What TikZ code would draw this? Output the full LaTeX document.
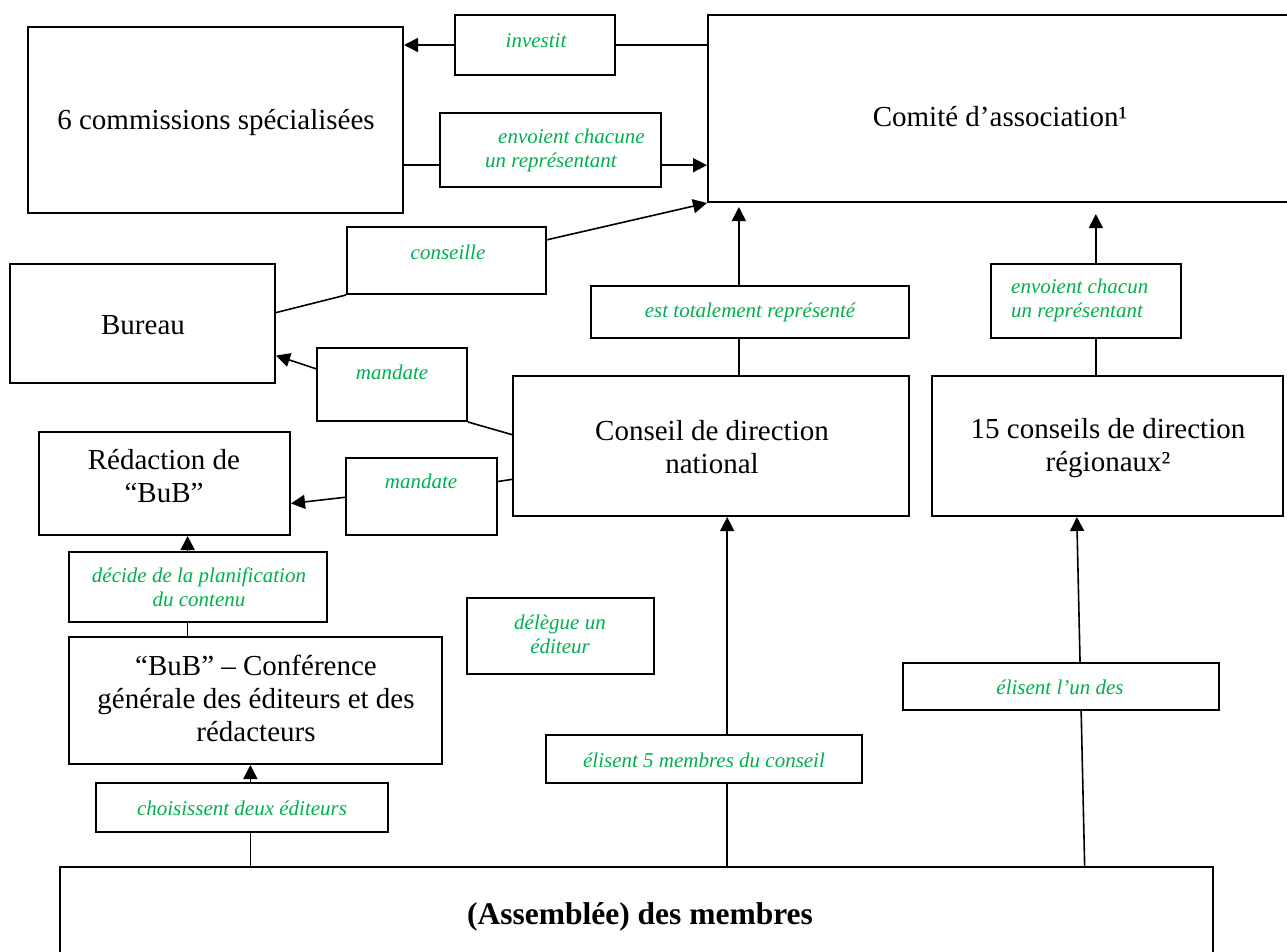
\documentclass[tikz,border=0pt]{standalone}
\usepackage{fontspec}
\setmainfont{Liberation Serif}
\usetikzlibrary{arrows.meta,calc,fit}
\definecolor{lblgreen}{RGB}{0,176,80}
\tikzset{
  box/.style={draw=black, line width=2pt, fill=white, inner sep=0pt},
  conn/.style={line width=1.6pt},
  arr/.style={conn, -{Triangle[length=14pt,width=14pt]}},
  main/.style={font=\fontsize{29}{33}\selectfont, align=center, inner sep=0pt},
  lbl/.style={font=\fontsize{21}{24}\selectfont\itshape, text=lblgreen, align=center, inner sep=0pt},
}
\begin{document}
\begin{tikzpicture}[x=1pt,y=-1pt]
\useasboundingbox (0,0) rectangle (1287,952);
\clip (0,0) rectangle (1287,952);
% boxes
\node[box, fit={(28,27) (403,213)}] (comm) {};
\node[box, fit={(455,15) (615,75)}] (inv) {};
\node[box, fit={(440,113) (661,187)}] (env) {};
\node[box, fit={(708,15) (1295,202)}] (comite) {};
\node[box, fit={(347,227) (546,294)}] (cons) {};
\node[box, fit={(10,264) (275,383)}] (bureau) {};
\node[box, fit={(317,348) (467,421)}] (mandA) {};
\node[box, fit={(513,376) (909,516)}] (cn) {};
\node[box, fit={(591,286) (909,338)}] (est) {};
\node[box, fit={(991,264) (1181,338)}] (envB) {};
\node[box, fit={(932,376) (1283,516)}] (reg) {};
\node[box, fit={(39,432) (290,535)}] (red) {};
\node[box, fit={(346,458) (497,535)}] (mandB) {};
\node[box, fit={(69,552) (327,622)}] (dec) {};
\node[box, fit={(69,637) (442,764)}] (conf) {};
\node[box, fit={(467,598) (654,674)}] (deleg) {};
\node[box, fit={(546,735) (862,783)}] (elA) {};
\node[box, fit={(903,663) (1219,710)}] (elB) {};
\node[box, fit={(96,783) (388,832)}] (choi) {};
\node[box, fit={(60,867) (1213,970)}] (asm) {};
% texts
\node[main] (tcomm) at (216,123) {6 commissions spécialisées};
\node[lbl] (tinv) at (536,41) {investit};
\node[lbl, align=left, anchor=west] (tenv) at (485,150) {\hspace*{13pt}envoient chacune\\un représentant};
\node[main] (tcomite) at (1000,117) {Comité d’association¹};
\node[lbl] (tcons) at (448,252) {conseille};
\node[main] (tbureau) at (143,325) {Bureau};
\node[lbl] (tmandA) at (392,372) {mandate};
\node[main] (tred) at (164,476) {Rédaction de\\“BuB”};
\node[lbl] (tmandB) at (421,481) {mandate};
\node[main] (tcn) at (712,447) {Conseil de direction\\national};
\node[lbl] (test) at (750,312) {est totalement représenté};
\node[lbl, align=left, anchor=west] (tenvB) at (1011,300) {envoient chacun\\un représentant};
\node[main] (treg) at (1108,448) {15 conseils de direction\\régionaux²};
\node[lbl] (tdec) at (199,587) {décide de la planification\\du contenu};
\node[main] (tconf) at (256,698) {“BuB” – Conférence\\générale des éditeurs et des\\rédacteurs};
\node[lbl] (tdeleg) at (560,634) {délègue un\\éditeur};
\node[lbl] (telA) at (704,760) {élisent 5 membres du conseil};
\node[lbl] (telB) at (1060,687) {élisent l’un des};
\node[lbl] (tchoi) at (242,808) {choisissent deux éditeurs};
\node[main, font=\fontsize{31.5}{36}\selectfont\bfseries] (tasm) at (640,917) {(Assemblée) des membres};
% connectors
\draw[conn] (inv.east) -- (inv.east -| comite.west);
\draw[arr] (inv.west) -- (inv.west -| comm.east);
\coordinate (envL) at ($(env.north west)!0.70!(env.south west)$);
\coordinate (envR) at ($(env.north east)!0.70!(env.south east)$);
\draw[conn] (envL) -- (envL -| comm.east);
\draw[arr] (envR) -- (envR -| comite.west);
\draw[conn] ($(bureau.north east)!0.41!(bureau.south east)$) -- (cons.south west);
\draw[arr] ($(cons.north east)!0.2!(cons.south east)$) -- (comite.south west);
\draw[arr] ($(mandA.north west)!0.29!(mandA.south west)$) -- ($(bureau.north east)!0.765!(bureau.south east)$);
\draw[conn] (mandA.south east) -- ($(cn.north west)!0.42!(cn.south west)$);
\draw[conn] ($(cn.north west)!0.735!(cn.south west)$) -- ($(mandB.north east)!0.31!(mandB.south east)$);
\draw[arr] ($(mandB.north west)!0.51!(mandB.south west)$) -- ($(red.north east)!0.69!(red.south east)$);
\coordinate (cnT) at ($(cn.north west)!0.57!(cn.north east)$);
\draw[conn] (cnT) -- (cnT |- est.south);
\draw[arr, shorten >=4pt] (cnT |- est.north) -- (cnT |- comite.south);
\coordinate (regT) at ($(reg.north west)!0.467!(reg.north east)$);
\draw[conn] (regT) -- (regT |- envB.south);
\draw[arr, shorten >=11pt] (regT |- envB.north) -- (regT |- comite.south);
\coordinate (confT) at ($(conf.north west)!0.319!(conf.north east)$);
\draw[conn] (confT) -- (confT |- dec.south);
\draw[arr] (confT |- dec.north) -- (confT |- red.south);
\coordinate (asmA) at ($(asm.north west)!0.1657!(asm.north east)$);
\draw[conn] (asmA) -- (asmA |- choi.south);
\draw[arr] (asmA |- choi.north) -- (asmA |- conf.south);
\coordinate (asmB) at ($(asm.north west)!0.5785!(asm.north east)$);
\draw[conn] (asmB) -- (asmB |- elA.south);
\draw[arr] (asmB |- elA.north) -- (asmB |- cn.south);
\coordinate (asmC) at ($(asm.north west)!0.888!(asm.north east)$);
\coordinate (regB) at ($(reg.south west)!0.413!(reg.south east)$);
\draw[conn] (asmC) -- ($(asmC)!0.447!(regB)$);
\draw[arr] ($(asmC)!0.581!(regB)$) -- (regB);
\end{tikzpicture}
\end{document}
